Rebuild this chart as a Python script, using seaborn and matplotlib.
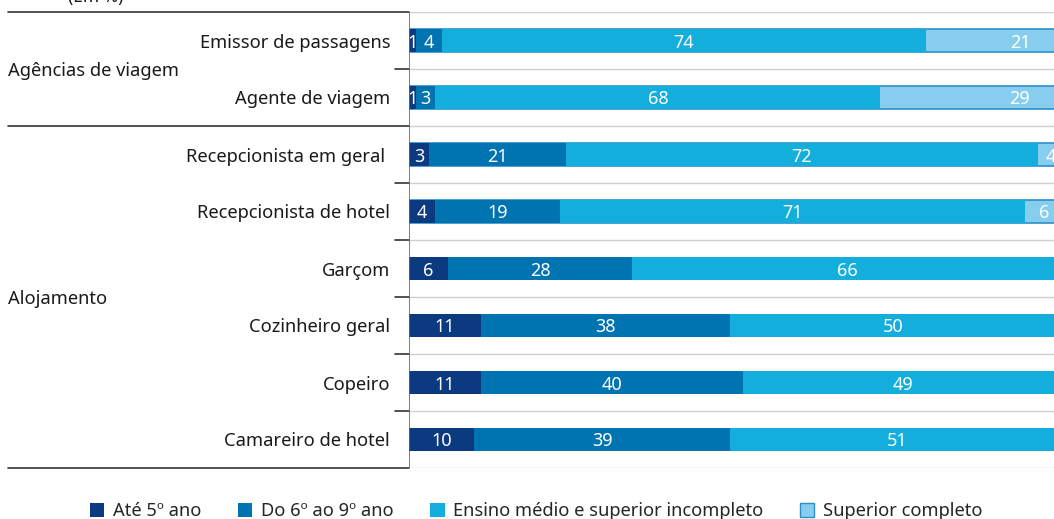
import numpy as np
import pandas as pd
import seaborn as sns
import matplotlib.pyplot as plt
from matplotlib.patches import Patch
from matplotlib.transforms import blended_transform_factory

# Data (em %)
occupations = ["Emissor de passagens", "Agente de viagem", "Recepcionista em geral ",
               "Recepcionista de hotel", "Garçom", "Cozinheiro geral", "Copeiro",
               "Camareiro de hotel"]
groups = ["Agências de viagem", "Alojamento"]
group_sizes = [2, 6]
series_names = ["Até 5º ano", "Do 6º ao 9º ano", "Ensino médio e superior incompleto",
                "Superior completo"]
ate_5 = [1, 1, 3, 4, 6, 11, 11, 10]
do_6_ao_9 = [4, 3, 21, 19, 28, 38, 40, 39]
ensino_medio = [74, 68, 72, 71, 66, 50, 49, 51]
superior = [21, 29, 4, 6, 0, 0, 0, 0]

colors = ["#0b3a80", "#0073b1", "#14aedd", "#87cdee"]
edge_last = "#2b8fc8"

sns.set_theme(style="white")
plt.rcParams["font.family"] = ["Noto Sans", "DejaVu Sans"]

df = pd.DataFrame({
    "ocup": occupations,
    "s0": ate_5, "s1": do_6_ao_9, "s2": ensino_medio, "s3": superior,
})
cols = ["s0", "s1", "s2", "s3"]
cum = df[cols].cumsum(axis=1)
for c in cols:
    df["c" + c] = cum[c]

fig = plt.figure(figsize=(10.54, 5.19), dpi=100)
ax = fig.add_axes([409 / 1054, 1 - 468 / 519, 645 / 1054, 456 / 519])

# cumulative overlay, widest first
bw = 0.39
last = df[df["s3"] > 0]
sns.barplot(data=last, y="ocup", x="cs3", order=occupations, color=colors[3],
            saturation=1, width=bw, edgecolor=edge_last, linewidth=1.2, ax=ax)
for i in [2, 1, 0]:
    sns.barplot(data=df, y="ocup", x="cs%d" % i, order=occupations, color=colors[i],
                saturation=1, width=bw, linewidth=0, ax=ax)

# value labels
LAST_LABEL_X = 93.3
for r in range(len(df)):
    start = 0
    for i, c in enumerate(cols):
        v = df.loc[r, c]
        if v > 0:
            xc = start + v / 2
            if i == 3:
                xc = max(xc, LAST_LABEL_X)
            ax.text(xc, r, str(v), ha="center", va="center_baseline",
                    color="white", fontsize=13, clip_on=True)
        start += v

ax.set_xlim(0, 98.5)
ax.set_ylim(len(occupations) - 0.5, -0.5)
ax.set_xlabel("")
ax.set_ylabel("")
ax.set_xticks([])
for s in ax.spines.values():
    s.set_visible(False)
ax.tick_params(axis="y", length=0, pad=13.5, labelsize=13.2, labelcolor="#1a1a1a")

# grid lines between rows
for yb in np.arange(-0.5, len(occupations), 1.0):
    ax.axhline(yb, color="#cfcfcf", lw=1, zorder=0)
ax.axvline(0, color="#666666", lw=1.2, zorder=5)

tr = blended_transform_factory(ax.transAxes, ax.transData)
x_left = (8 - 409) / 645
# group separators and labels
bounds = np.concatenate([[0], np.cumsum(group_sizes)])
for b in bounds:
    ax.plot([x_left, 0], [b - 0.5, b - 0.5], color="#333333", lw=1.2,
            transform=tr, clip_on=False)
for g, a, b in zip(groups, bounds[:-1], bounds[1:]):
    ax.text(x_left, (a + b - 1) / 2 + 0.03, g, transform=tr, ha="left", va="center",
            fontsize=13.2, color="#1a1a1a")
    for k in range(a + 1, b):
        ax.plot([-14 / 645, 0], [k - 0.5, k - 0.5], color="#333333", lw=1.2,
                transform=tr, clip_on=False)

fig.text(68 / 1054, 1 + 3 / 519, "(Em %)", ha="left", va="center", fontsize=12.5,
         color="#1a1a1a")

handles = [Patch(facecolor=colors[i], edgecolor=edge_last if i == 3 else colors[i],
                 linewidth=1 if i == 3 else 0) for i in range(4)]
fig.legend(handles, series_names, loc="center", ncol=4, frameon=False,
           bbox_to_anchor=(536 / 1054, 1 - 511 / 519), fontsize=13.2,
           handlelength=0.8, handleheight=0.8, handletextpad=0.45,
           columnspacing=2.0, borderaxespad=0, borderpad=0)

fig.savefig("out.png", dpi=100)
